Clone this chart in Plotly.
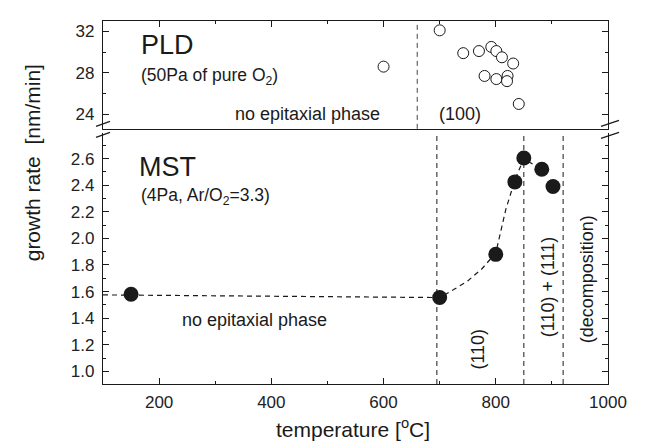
import plotly.graph_objects as go

# ---- data ----
pld_temp = [600, 700, 742, 770, 792, 801, 811, 831, 780, 801, 821, 820, 841]
pld_rate = [28.6, 32.1, 29.9, 30.1, 30.5, 30.1, 29.5, 28.9, 27.7, 27.4, 27.7, 27.2, 25.0]

mst_temp = [150, 700, 800, 834, 850, 882, 902]
mst_rate = [1.58, 1.555, 1.88, 2.425, 2.605, 2.52, 2.39]

fit_temp = [100, 400, 700, 725, 750, 775, 800, 818, 835, 850, 865, 880]
fit_rate = [1.575, 1.567, 1.555, 1.615, 1.68, 1.77, 1.89, 2.22, 2.45, 2.60, 2.56, 2.52]

pld_boundary = [660]
mst_boundaries = [695, 850, 920]

x_ticks = [200, 400, 600, 800, 1000]
top_ticks = [24, 28, 32]
bot_ticks = [1.0, 1.2, 1.4, 1.6, 1.8, 2.0, 2.2, 2.4, 2.6]

# ---- geometry ----
W, H = 645, 444
ML, MR, MT, MB = 95, 45, 12.5, 68
PW = W - ML - MR
PH = H - MT - MB
top_dom = [(376 - 120.5) / PH, 1.0]
bot_dom = [0.0, (376 - 125) / PH]

FONT = "Arial, Liberation Sans, sans-serif"
INK = "#1a1a1a"


def paper(px, py):
    return (px - ML) / PW, (MT + PH - py) / PH


fig = go.Figure()

fig.add_trace(go.Scatter(
    x=fit_temp, y=fit_rate, mode="lines", xaxis="x", yaxis="y",
    line=dict(color=INK, width=1.2, dash="5px,4px"), hoverinfo="skip"))
fig.add_trace(go.Scatter(
    x=mst_temp, y=mst_rate, mode="markers", xaxis="x", yaxis="y",
    marker=dict(size=15, color=INK, line=dict(width=0))))
fig.add_trace(go.Scatter(
    x=pld_temp, y=pld_rate, mode="markers", xaxis="x2", yaxis="y2",
    marker=dict(size=11, color="white", line=dict(width=1, color=INK))))

shapes = []
for xb in pld_boundary:
    shapes.append(dict(type="line", xref="x2", yref="y2 domain", x0=xb, x1=xb, y0=0, y1=1,
                       line=dict(color="#444", width=1, dash="5px,4px")))
for xb in mst_boundaries:
    shapes.append(dict(type="line", xref="x", yref="y domain", x0=xb, x1=xb, y0=0, y1=1,
                       line=dict(color=INK, width=1, dash="5px,4px")))

# axis-break marks
for (ax0, ay0, ax1, ay1) in [(88, 118, 102, 113), (88, 129, 102, 124),
                             (593, 118, 611, 112), (593, 130, 611, 124)]:
    x0, y0 = paper(ax0, ay0)
    x1, y1 = paper(ax1, ay1)
    shapes.append(dict(type="line", xref="paper", yref="paper", x0=x0, y0=y0, x1=x1, y1=y1,
                       line=dict(color=INK, width=1.2)))

ann = []


def txt(text, x, y, xref, yref, size, xanchor="left", angle=0, yanchor="middle"):
    ann.append(dict(text=text, x=x, y=y, xref=xref, yref=yref, showarrow=False,
                    xanchor=xanchor, yanchor=yanchor, textangle=angle,
                    font=dict(family=FONT, size=size, color=INK)))


txt("PLD", 165, 30.64, "x2", "y2", 27)
txt("(50Pa of pure O<sub>2</sub>)", 164, 27.65, "x2", "y2", 17.5)
txt("no epitaxial phase", 597, 24.0, "x2", "y2", 18, xanchor="right")
txt("(100)", 695, 24.0, "x2", "y2", 18)
txt("MST", 160, 2.54, "x", "y", 27)
txt("(4Pa, Ar/O<sub>2</sub>=3.3)", 164, 2.317, "x", "y", 17.5)
txt("no epitaxial phase", 238, 1.39, "x", "y", 18)
txt("(110)", 768, 1.17, "x", "y", 18, xanchor="center", angle=-90)
txt("(110) + (111)", 893, 1.64, "x", "y", 18, xanchor="center", angle=-90)
txt("(decomposition)", 962, 1.69, "x", "y", 18, xanchor="center", angle=-90)

gx, gy = paper(24, 155)
txt("growth rate  [nm/min]", gx, gy, "paper", "paper", 21, xanchor="center", angle=-90)
tx, ty = paper(345, 420)
txt("temperature [<sup>o</sup>C]", tx, ty, "paper", "paper", 21, xanchor="center")

common_axis = dict(showline=True, linecolor=INK, linewidth=1.2, ticks="inside",
                   tickcolor=INK, ticklen=6, tickwidth=1, showgrid=False, zeroline=False,
                   tickfont=dict(family=FONT, size=17, color="#222"))

fig.update_layout(
    width=W, height=H,
    margin=dict(l=ML, r=MR, t=MT, b=MB),
    paper_bgcolor="white", plot_bgcolor="white",
    showlegend=False,
    xaxis=dict(**common_axis, range=[100, 1000], domain=[0, 1], anchor="y",
               tickvals=x_ticks, mirror=False, ticklabelstandoff=2,
               minor=dict(ticks="inside", ticklen=3, dtick=100, tick0=100, tickcolor=INK)),
    yaxis=dict(**common_axis, range=[0.905, 2.79], domain=bot_dom, anchor="x",
               tickvals=bot_ticks, tickformat=".1f", mirror="ticks", ticklabelstandoff=4,
               minor=dict(ticks="inside", ticklen=3, dtick=0.1, tick0=0.9, tickcolor=INK)),
    xaxis2=dict(**common_axis, range=[100, 1000], domain=[0, 1], anchor="y2",
                matches="x", side="top", showticklabels=False, tickvals=x_ticks, mirror=True,
                minor=dict(ticks="inside", ticklen=3, dtick=100, tick0=100, tickcolor=INK)),
    yaxis2=dict(**common_axis, range=[22.6, 33.0], domain=top_dom, anchor="x2",
                tickvals=top_ticks, mirror="ticks", ticklabelstandoff=4,
                minor=dict(ticks="inside", ticklen=3, dtick=2, tick0=22, tickcolor=INK)),
    shapes=shapes,
    annotations=ann,
)

fig.write_html("out.html")
